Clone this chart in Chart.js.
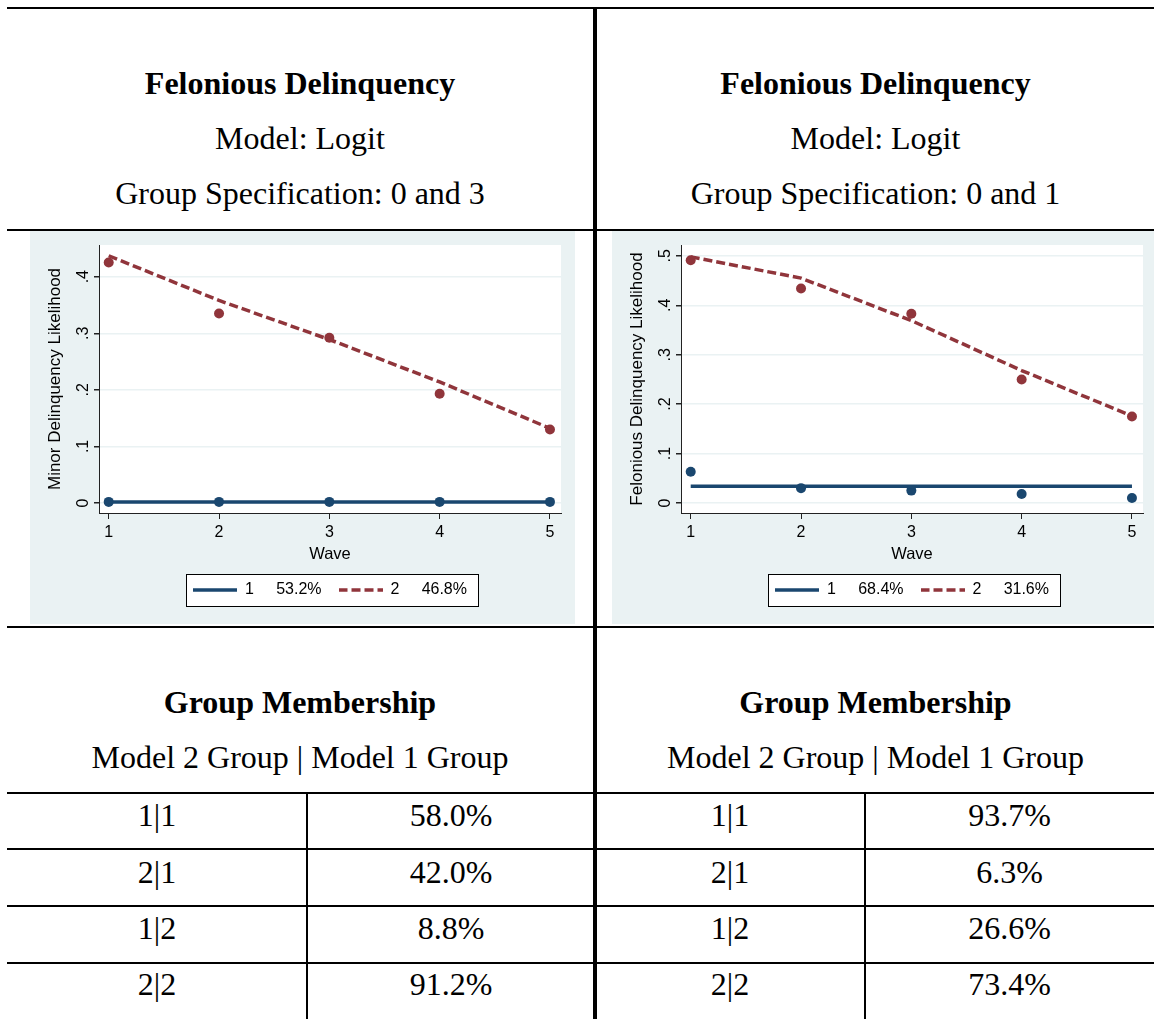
<!DOCTYPE html>
<html>
<head>
<meta charset="utf-8">
<script src="https://cdn.jsdelivr.net/npm/chart.js@4.4.1/dist/chart.umd.min.js"></script>
<style>
  html, body { margin: 0; padding: 0; background: #fff; }
  body { width: 1154px; height: 1019px; position: relative; overflow: hidden; font-family: "Liberation Serif", "Times New Roman", serif; color: #000; }
  .hl { position: absolute; left: 7px; width: 1147px; height: 2px; background: #000; }
  .vl { position: absolute; background: #000; }
  .txt { position: absolute; text-align: center; font-size: 32px; line-height: 40px; white-space: nowrap; }
  .b { font-weight: bold; }
  .panel { position: absolute; top: 231px; width: 545px; height: 393px; }
</style>
</head>
<body>
  <div class="hl" style="top:7px"></div>
  <div class="hl" style="top:229px"></div>
  <div class="hl" style="top:626px"></div>
  <div class="hl" style="top:792px"></div>
  <div class="hl" style="top:848px"></div>
  <div class="hl" style="top:905px"></div>
  <div class="hl" style="top:962px"></div>
  <div class="vl" style="left:593px; top:7px; width:4px; height:1012px"></div>
  <div class="vl" style="left:306px; top:792px; width:2px; height:227px"></div>
  <div class="vl" style="left:864px; top:792px; width:2px; height:227px"></div>

  <div class="txt b" style="left:7px; width:586px; top:63px">Felonious Delinquency</div>
  <div class="txt" style="left:7px; width:586px; top:118px">Model: Logit</div>
  <div class="txt" style="left:7px; width:586px; top:173px">Group Specification: 0 and 3</div>
  <div class="txt b" style="left:597px; width:557px; top:63px">Felonious Delinquency</div>
  <div class="txt" style="left:597px; width:557px; top:118px">Model: Logit</div>
  <div class="txt" style="left:597px; width:557px; top:173px">Group Specification: 0 and 1</div>

  <div class="panel" style="left:30px"><canvas id="chartLeft" width="545" height="393"></canvas></div>
  <div class="panel" style="left:612px"><canvas id="chartRight" width="545" height="393"></canvas></div>

  <div class="txt b" style="left:7px; width:586px; top:682px">Group Membership</div>
  <div class="txt" style="left:7px; width:586px; top:737px">Model 2 Group | Model 1 Group</div>
  <div class="txt b" style="left:597px; width:557px; top:682px">Group Membership</div>
  <div class="txt" style="left:597px; width:557px; top:737px">Model 2 Group | Model 1 Group</div>

  <div id="tableLeft"></div>
  <div id="tableRight"></div>

<script>
// ---- data ----
const waves = [1, 2, 3, 4, 5];

// left panel (group spec 0 and 3)
const leftFit1 = [0.002, 0.002, 0.002, 0.002, 0.002];
const leftObs1 = [0.002, 0.002, 0.002, 0.002, 0.002];
const leftFit2 = [0.437, 0.358, 0.289, 0.214, 0.132];
const leftObs2 = [0.425, 0.335, 0.292, 0.193, 0.130];
const leftLegend = ['1     53.2%', '2     46.8%'];
const leftYTicks = [0, 0.1, 0.2, 0.3, 0.4];
const leftYTickLabels = ['0', '.1', '.2', '.3', '.4'];

// right panel (group spec 0 and 1)
const rightFit1 = [0.034, 0.034, 0.034, 0.034, 0.034];
const rightObs1 = [0.063, 0.030, 0.025, 0.018, 0.010];
const rightFit2 = [0.498, 0.455, 0.369, 0.268, 0.176];
const rightObs2 = [0.491, 0.434, 0.383, 0.250, 0.175];
const rightLegend = ['1     68.4%', '2     31.6%'];
const rightYTicks = [0, 0.1, 0.2, 0.3, 0.4, 0.5];
const rightYTickLabels = ['0', '.1', '.2', '.3', '.4', '.5'];

// membership tables
const membershipRows = ['1|1', '2|1', '1|2', '2|2'];
const leftMembership = ['58.0%', '42.0%', '8.8%', '91.2%'];
const rightMembership = ['93.7%', '6.3%', '26.6%', '73.4%'];

const NAVY = '#1a476f';
const MAROON = '#90353b';
const BG = '#eaf2f3';
const SANS = '"Liberation Sans", Arial, sans-serif';
const LINE_W = 3.5;
const DASH = [9, 4];

Chart.defaults.font.family = SANS;
Chart.defaults.color = '#000';

// legend key: little line sample (dashed for group 2)
function keyImage(color, dash) {
  const c = document.createElement('canvas');
  c.width = 44;
  c.height = 8;
  const g = c.getContext('2d');
  g.strokeStyle = color;
  g.lineWidth = LINE_W;
  g.setLineDash(dash);
  g.beginPath();
  g.moveTo(0, 4);
  g.lineTo(44, 4);
  g.stroke();
  return c;
}

const stataLook = {
  id: 'stataLook',
  beforeDraw(chart) {
    const ctx = chart.ctx;
    const a = chart.chartArea;
    ctx.save();
    ctx.fillStyle = BG;
    ctx.fillRect(0, 0, chart.width, chart.height);
    ctx.fillStyle = '#fff';
    ctx.fillRect(a.left, a.top, a.right - a.left, a.bottom - a.top);
    // legend frame
    const hb = chart.legend.legendHitBoxes;
    if (hb && hb.length) {
      const last = hb[hb.length - 1];
      const cy = hb[0].top + hb[0].height / 2;
      const l = Math.round(hb[0].left - 7) + 0.5;
      const r = Math.round(last.left + last.width + 11) + 0.5;
      const t = Math.round(cy - 16) + 0.5;
      ctx.fillStyle = '#fff';
      ctx.fillRect(l, t, r - l, 32);
      ctx.strokeStyle = '#000';
      ctx.lineWidth = 1;
      ctx.strokeRect(l, t, r - l, 32);
    }
    ctx.restore();
  },
  afterDraw(chart) {
    // vertical y tick labels, like Stata
    const ctx = chart.ctx;
    const y = chart.scales.y;
    const labels = chart.options.plugins.stataLook.yLabels;
    ctx.save();
    ctx.font = '16px ' + SANS;
    ctx.fillStyle = '#000';
    ctx.textAlign = 'center';
    ctx.textBaseline = 'middle';
    y.ticks.forEach((t, i) => {
      ctx.save();
      ctx.translate(y.right - 15, y.getPixelForValue(t.value));
      ctx.rotate(-Math.PI / 2);
      ctx.fillText(labels[i], 0, 0);
      ctx.restore();
    });
    ctx.restore();
  }
};

function pts(vals) {
  return waves.map((w, i) => ({ x: w, y: vals[i] }));
}

function makeChart(id, fit1, obs1, fit2, obs2, legendText, yTicks, yLabels, yMin, yMax, yTitle) {
  const keys = [keyImage(NAVY, []), keyImage(MAROON, DASH)];
  new Chart(document.getElementById(id), {
    type: 'scatter',
    data: {
      datasets: [
        { label: legendText[0], data: pts(fit1), showLine: true, borderColor: NAVY, backgroundColor: NAVY, borderWidth: LINE_W, pointRadius: 0 },
        { label: '', data: pts(obs1), showLine: false, backgroundColor: NAVY, borderColor: NAVY, pointRadius: 5, pointBorderWidth: 0 },
        { label: legendText[1], data: pts(fit2), showLine: true, borderColor: MAROON, backgroundColor: MAROON, borderWidth: LINE_W, borderDash: DASH, pointRadius: 0 },
        { label: '', data: pts(obs2), showLine: false, backgroundColor: MAROON, borderColor: MAROON, pointRadius: 5, pointBorderWidth: 0 }
      ]
    },
    options: {
      responsive: false,
      animation: false,
      devicePixelRatio: 1,
      layout: { padding: { left: 0, right: 14, top: 14, bottom: 16 } },
      scales: {
        x: {
          type: 'linear',
          min: 0.912,
          max: 5.1,
          afterBuildTicks: s => { s.ticks = waves.map(v => ({ value: v })); },
          afterFit: s => { s.height = 52; },
          ticks: { font: { size: 16 }, padding: 4, callback: v => String(v) },
          grid: { display: true, drawOnChartArea: false, drawTicks: true, tickLength: 6, tickColor: '#222' },
          border: { display: true, color: '#222', width: 1 },
          title: { display: true, text: 'Wave', font: { size: 16.5 }, padding: { top: 0, bottom: 1 } }
        },
        y: {
          type: 'linear',
          min: yMin,
          max: yMax,
          afterBuildTicks: s => { s.ticks = yTicks.map(v => ({ value: v })); },
          afterFit: s => { s.width = 69; },
          ticks: { display: false },
          grid: { color: BG, lineWidth: 1.5, drawTicks: true, tickLength: 5, tickColor: '#222' },
          border: { display: true, color: '#222', width: 1 },
          title: { display: true, text: yTitle, font: { size: 17 }, padding: { top: 15, bottom: 0 } }
        }
      },
      plugins: {
        stataLook: { yLabels: yLabels },
        tooltip: { enabled: false },
        legend: {
          position: 'bottom',
          fullSize: false,
          align: 'center',
          labels: {
            usePointStyle: true,
            pointStyleWidth: 44,
            padding: 17,
            font: { size: 16 },
            color: '#000',
            filter: item => item.text !== '',
            generateLabels: chart => Chart.defaults.plugins.legend.labels.generateLabels(chart)
              .map(l => Object.assign(l, { pointStyle: keys[l.datasetIndex === 0 ? 0 : 1], rotation: 0 }))
          }
        }
      }
    },
    plugins: [stataLook]
  });
}

makeChart('chartLeft', leftFit1, leftObs1, leftFit2, leftObs2, leftLegend,
  leftYTicks, leftYTickLabels, -0.0176, 0.456, 'Minor Delinquency Likelihood');
makeChart('chartRight', rightFit1, rightObs1, rightFit2, rightObs2, rightLegend,
  rightYTicks, rightYTickLabels, -0.0203, 0.522, 'Felonious Delinquency Likelihood');

// membership table cells
function fillTable(elId, colLeft, splitX, colRight, values) {
  const el = document.getElementById(elId);
  const rowCenters = [815, 872, 928, 984];
  el.innerHTML = membershipRows.map((r, i) =>
    `<div class="txt" style="left:${colLeft}px; width:${splitX - colLeft}px; top:${rowCenters[i] - 20}px">${r}</div>` +
    `<div class="txt" style="left:${splitX}px; width:${colRight - splitX}px; top:${rowCenters[i] - 20}px">${values[i]}</div>`
  ).join('');
}
fillTable('tableLeft', 7, 307, 595, leftMembership);
fillTable('tableRight', 595, 865, 1154, rightMembership);
</script>
</body>
</html>
